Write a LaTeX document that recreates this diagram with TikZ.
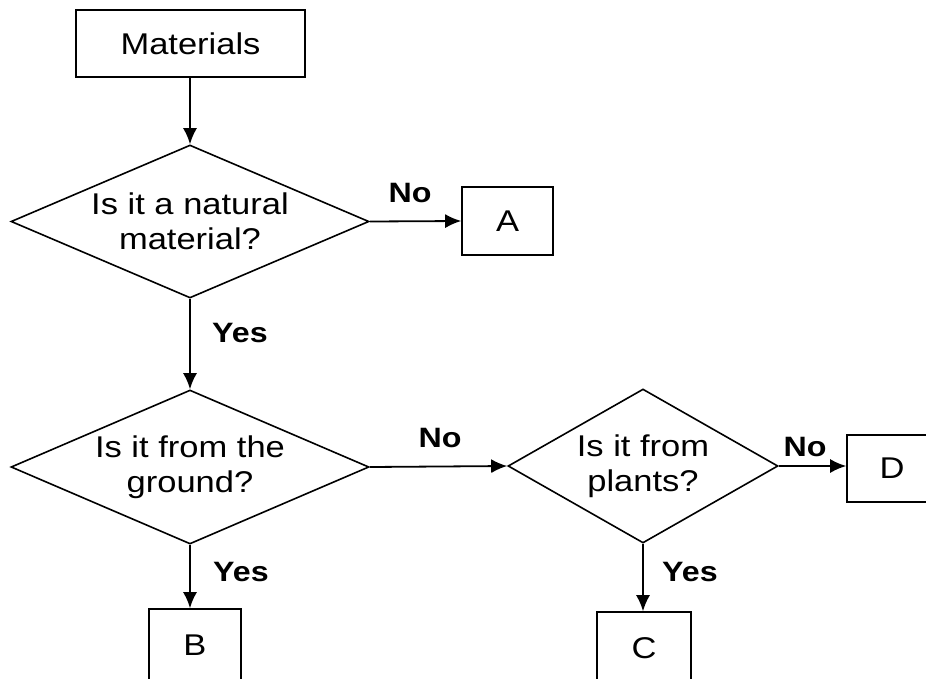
\documentclass[tikz,border=0pt]{standalone}
\usepackage{fontspec}
\setmainfont[FakeStretch=1.15]{Liberation Sans}
\usetikzlibrary{shapes.geometric,arrows.meta}
\begin{document}
\begin{tikzpicture}[x=1pt,y=-1pt,
  every node/.style={font=\fontsize{30}{35}\selectfont},
  boxnode/.style={draw,line width=1.6pt,rectangle,inner sep=0pt,align=center},
  decision/.style={draw,line width=1.6pt,diamond,inner sep=-6pt,align=center},
  lbl/.style={font=\fontsize{28}{32}\selectfont\bfseries,inner sep=0pt},
  arr/.style={line width=1.8pt,-{Latex[length=16pt,width=14pt]}}]
\useasboundingbox (0,0) rectangle (926,678);
\clip (0,0) rectangle (926,678);
\node[boxnode,minimum width=229pt,minimum height=67pt] (mat) at (190.5,43.5) {Materials};
\node[decision,shape aspect=2.34,minimum width=358pt,minimum height=153pt] (d1) at (190,221.5) {Is it a natural\\material?};
\node[boxnode,minimum width=91pt,minimum height=68pt] (a) at (507.5,221) {A};
\node[decision,shape aspect=2.32,minimum width=358pt,minimum height=154pt] (d2) at (190,467) {Is it from the\\ground?};
\node[decision,shape aspect=1.75,minimum width=270pt,minimum height=154pt] (d3) at (643,466) {Is it from\\plants?};
\node[boxnode,minimum width=90pt,minimum height=67pt] (d) at (892,468.5) {D};
\node[boxnode,minimum width=92pt,minimum height=72pt] (b) at (195,645) {B};
\node[boxnode,minimum width=94pt,minimum height=72pt] (c) at (644,648) {C};
\draw[arr] (mat.south -| d1.north) -- (d1.north);
\draw[arr] (d1.east) -- (a.west);
\draw[arr] (d1.south) -- (d2.north);
\draw[arr] (d2.east) -- (d3.west);
\draw[arr] (d3.east) -- (d3.east -| d.west);
\draw[arr] (d2.south) -- (d2.south |- b.north);
\draw[arr] (d3.south) -- (d3.south |- c.north);
\node[lbl] (n1) at (410,193) {No};
\node[lbl,anchor=west] (y1) at (212,333) {Yes};
\node[lbl] (n2) at (440,438) {No};
\node[lbl,anchor=west] (y2) at (213,572) {Yes};
\node[lbl] (n3) at (805,447) {No};
\node[lbl,anchor=west] (y3) at (662,572) {Yes};
\end{tikzpicture}
\end{document}
